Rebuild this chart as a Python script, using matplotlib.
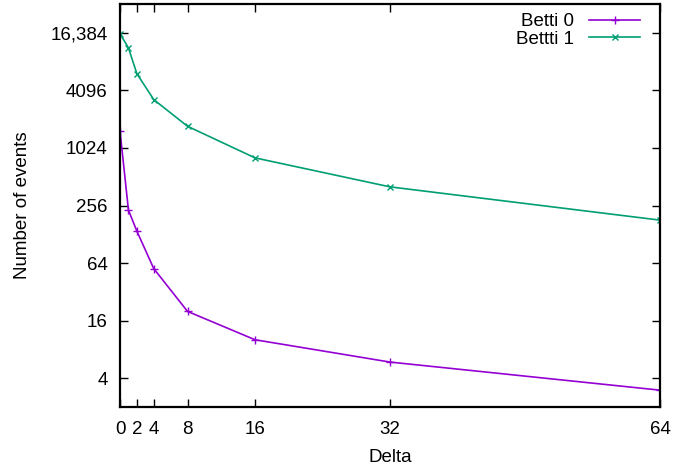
import matplotlib
matplotlib.use("Agg")
import matplotlib.pyplot as plt
from matplotlib.ticker import FixedLocator, NullLocator

plt.rcParams['font.family'] = ['Liberation Sans', 'DejaVu Sans']

delta = [0, 1, 2, 4, 8, 16, 32, 64]
betti0 = [1540, 229, 138, 56, 20, 10.1, 5.9, 3.0]
betti1 = [16000, 11400, 6120, 3280, 1725, 806, 401, 180]

x_ticks = [0, 2, 4, 8, 16, 32, 64]
y_ticks = [4, 16, 64, 256, 1024, 4096, 16384]
y_labels = ["4", "16", "64", "256", "1024", "4096", "16,384"]

fig = plt.figure(figsize=(6.73, 4.68), dpi=100)
ax = fig.add_axes([120 / 673, 61 / 468, 540 / 673, 403 / 468])

ax.plot(delta, betti0, color="#9400D3", marker="+", markersize=6, lw=1.2, label="Betti 0")
ax.plot(delta, betti1, color="#009E73", marker="x", markersize=5, lw=1.2, label="Bettti 1")

ax.set_yscale('log', base=2)
ax.set_ylim(2, 32768)
ax.set_xlim(0, 64)
ax.yaxis.set_major_locator(FixedLocator(y_ticks))
ax.set_yticklabels(y_labels)
ax.yaxis.set_minor_locator(NullLocator())
ax.set_xticks(x_ticks)

ax.tick_params(direction="in", top=True, right=True, length=6, width=1, labelsize=13.5)
ax.tick_params(axis="y", pad=9)
ax.tick_params(axis="x", pad=10)
for s in ax.spines.values():
    s.set_linewidth(1.6)

ax.set_xlabel("Delta", fontsize=13.5, labelpad=8)
ax.set_ylabel("Number of events", fontsize=13.5, labelpad=14)

ax.legend(loc="upper right", frameon=False, markerfirst=False, fontsize=13.5,
          handlelength=2.7, borderaxespad=0.1, labelspacing=0.0, handletextpad=0.8,
          bbox_to_anchor=(0.98, 1.0))

fig.savefig("out.png", dpi=100)
